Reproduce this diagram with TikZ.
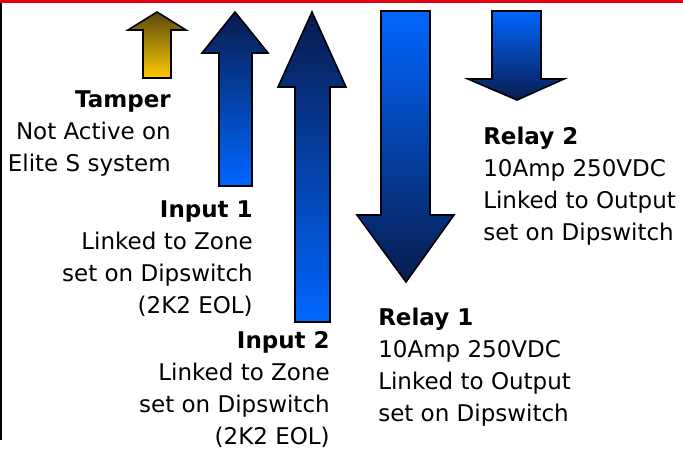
\documentclass[tikz,border=0pt]{standalone}
\usepackage{fontspec}
\setmainfont{DejaVu Sans}
\definecolor{navy}{RGB}{8,28,78}
\definecolor{brightblue}{RGB}{0,102,255}
\definecolor{gold}{RGB}{255,204,0}
\definecolor{olive}{RGB}{90,72,14}
\definecolor{barred}{RGB}{225,0,20}
\tikzset{
  uparrow/.style={draw=black,line width=1.2pt,top color=navy,bottom color=brightblue},
  downarrow/.style={draw=black,line width=1.2pt,top color=brightblue,bottom color=navy},
  tamperarrow/.style={draw=black,line width=1.2pt,top color=olive,bottom color=gold},
  label/.style={inner sep=0pt,font=\fontsize{17.25}{24}\selectfont}
}
\begin{document}
\begin{tikzpicture}[x=0.75pt,y=-0.75pt]
  \useasboundingbox (0,0) rectangle (683,450);
  % frame lines
  \fill[barred] (0,0) rectangle (683,2.5);
  \draw[black,line width=1pt] (1,3) -- (1,440);

  % tamper
  \shade[tamperarrow] (157,12)--(186,30)--(171,30)--(171,78)--(143,78)--(143,30)--(128,30)--cycle;
  % input 1
  \shade[uparrow] (235,12)--(268,53)--(252,53)--(252,186)--(219,186)--(219,53)--(202,53)--cycle;
  % input 2
  \shade[uparrow] (312,12)--(346,87)--(330,87)--(330,322)--(295,322)--(295,87)--(278,87)--cycle;
  % relay 1
  \shade[downarrow] (381,11)--(430,11)--(430,215)--(454,215)--(406,282)--(357,215)--(381,215)--cycle;
  % relay 2
  \shade[downarrow] (492,11)--(541,11)--(541,79)--(564,79)--(517,100)--(468,79)--(492,79)--cycle;

  \node[label,align=right,anchor=north east] (tamper) at (171,90)
    {\textbf{Tamper}\\Not Active on\\Elite S system};
  \node[label,align=right,anchor=north east] (inone) at (253,200)
    {\textbf{Input 1}\\Linked to Zone\\set on Dipswitch\\(2K2 EOL)};
  \node[label,align=right,anchor=north east] (intwo) at (330,331)
    {\textbf{Input 2}\\Linked to Zone\\set on Dipswitch\\(2K2 EOL)};
  \node[label,align=left,anchor=north west] (relaytwo) at (483,127)
    {\textbf{Relay 2}\\10Amp 250VDC\\Linked to Output\\set on Dipswitch};
  \node[label,align=left,anchor=north west] (relayone) at (378,308)
    {\textbf{Relay 1}\\10Amp 250VDC\\Linked to Output\\set on Dipswitch};
\end{tikzpicture}
\end{document}
